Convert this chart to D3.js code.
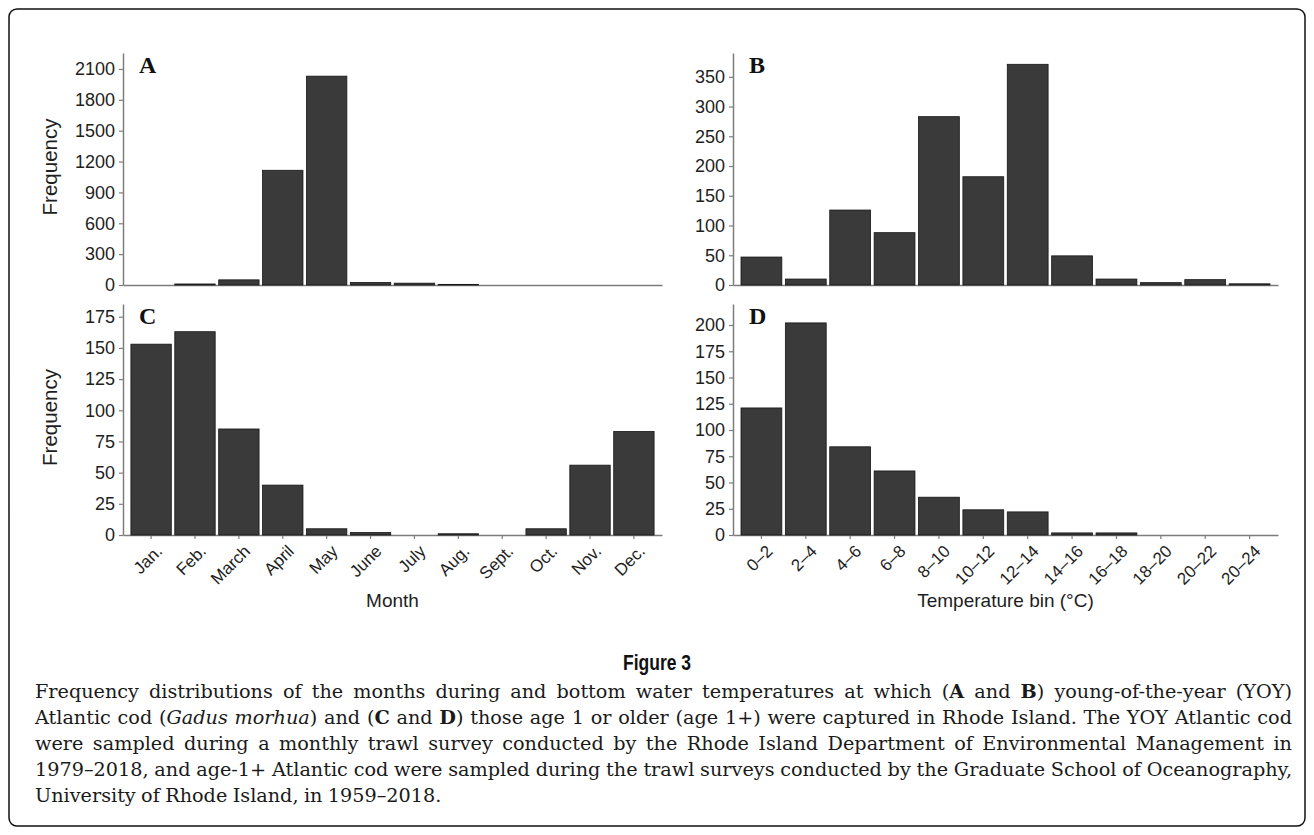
<!DOCTYPE html>
<html>
<head>
<meta charset="utf-8">
<script src="https://cdn.jsdelivr.net/npm/d3@7"></script>
<style>
  body { margin: 0; background: #fff; }
  svg { display: block; }
</style>
</head>
<body>
<svg id="fig" width="1314" height="835"></svg>
<script>
// Categories
const months = ["Jan.", "Feb.", "March", "April", "May", "June", "July", "Aug.", "Sept.", "Oct.", "Nov.", "Dec."];
const tempBins = ["0–2", "2–4", "4–6", "6–8", "8–10", "10–12", "12–14", "14–16", "16–18", "18–20", "20–22", "20–24"];

// Frequencies: young-of-the-year (YOY) and age-1+ Atlantic cod
const yoyByMonth   = [0, 10, 50, 1115, 2030, 25, 18, 6, 0, 0, 0, 0];
const yoyByTemp    = [47, 10, 126, 88, 283, 182, 371, 49, 10, 4, 9, 2];
const adultByMonth = [153, 163, 85, 40, 5, 2, 0, 1, 0, 5, 56, 83];
const adultByTemp  = [121, 202, 84, 61, 36, 24, 22, 2, 2, 0, 0, 0];

// Y tick labels
const ticksA = [0, 300, 600, 900, 1200, 1500, 1800, 2100];
const ticksB = [0, 50, 100, 150, 200, 250, 300, 350];
const ticksC = [0, 25, 50, 75, 100, 125, 150, 175];
const ticksD = [0, 25, 50, 75, 100, 125, 150, 175, 200];

const sans = "'Liberation Sans', Arial, Helvetica, sans-serif";
const serif = "'Liberation Serif', 'Times New Roman', serif";
const capFont = "'DejaVu Serif', serif";

const svg = d3.select("#fig");

// Frame
svg.append("rect")
  .attr("x", 9).attr("y", 9).attr("width", 1296).attr("height", 817)
  .attr("rx", 8).attr("ry", 8)
  .attr("fill", "none").attr("stroke", "#111").attr("stroke-width", 1.5);

const panels = [
  { letter: "A", cats: months,   vals: yoyByMonth,   ticks: ticksA, yMax: 2255, x0: 123, x1: 662,  yTop: 53,  yBase: 285, xLabels: false, yTitle: true },
  { letter: "B", cats: tempBins, vals: yoyByTemp,    ticks: ticksB, yMax: 390,  x0: 733, x1: 1278, yTop: 53,  yBase: 285, xLabels: false, yTitle: false },
  { letter: "C", cats: months,   vals: adultByMonth, ticks: ticksC, yMax: 185.2, x0: 123, x1: 662, yTop: 304, yBase: 535, xLabels: true, yTitle: true, xTitle: "Month" },
  { letter: "D", cats: tempBins, vals: adultByTemp,  ticks: ticksD, yMax: 220,  x0: 733, x1: 1278, yTop: 304, yBase: 535, xLabels: true, yTitle: false, xTitle: "Temperature bin (°C)" }
];

const axisColor = "#7d7d7d";
const fmt = d3.format("d");

panels.forEach(p => {
  const g = svg.append("g");
  const x = d3.scaleBand().domain(p.cats).range([p.x0, p.x1])
    .paddingInner(0.08).paddingOuter(0.18);
  const y = d3.scaleLinear().domain([0, p.yMax]).range([p.yBase, p.yTop]);

  // Y axis
  const ya = g.append("g")
    .attr("transform", `translate(${p.x0},0)`)
    .call(d3.axisLeft(y).tickValues(p.ticks).tickFormat(fmt)
      .tickSize(4).tickSizeOuter(0).tickPadding(4));
  ya.select(".domain").attr("stroke", axisColor).attr("stroke-width", 1.5);
  ya.selectAll(".tick line").attr("stroke", axisColor).attr("stroke-width", 1.2);
  ya.selectAll(".tick text")
    .attr("font-family", sans).attr("font-size", 18).attr("fill", "#1e1e1e");

  // X axis
  const xa = g.append("g")
    .attr("transform", `translate(0,${p.yBase})`)
    .call(d3.axisBottom(x).tickSize(p.xLabels ? 4 : 0).tickSizeOuter(0).tickPadding(4));
  xa.select(".domain").attr("stroke", axisColor).attr("stroke-width", 1.5);
  xa.selectAll(".tick line").attr("stroke", axisColor).attr("stroke-width", 1.2);
  if (p.xLabels) {
    xa.selectAll(".tick text")
      .attr("font-family", sans).attr("font-size", 17).attr("fill", "#1e1e1e")
      .attr("text-anchor", "end")
      .attr("dy", "0.35em")
      .attr("transform", "translate(8,13) rotate(-45)")
      .attr("y", 0).attr("x", 0);
  } else {
    xa.selectAll(".tick text").remove();
  }

  // Bars
  g.selectAll("rect.bar")
    .data(p.cats.map((c, i) => ({ c, v: p.vals[i] })).filter(d => d.v > 0))
    .join("rect")
    .attr("class", "bar")
    .attr("x", d => x(d.c))
    .attr("y", d => y(d.v))
    .attr("width", x.bandwidth())
    .attr("height", d => p.yBase - y(d.v))
    .attr("fill", "#3a3a3a")
    .attr("stroke", "#161616")
    .attr("stroke-width", 0.8);

  // Panel letter
  g.append("text")
    .attr("x", p.x0 + 16).attr("y", p.yTop + 20)
    .attr("font-family", serif).attr("font-weight", "bold").attr("font-size", 24)
    .attr("fill", "#111")
    .text(p.letter);

  if (p.yTitle) {
    g.append("text")
      .attr("transform", `translate(57,${(p.yTop + p.yBase) / 2 - 2}) rotate(-90)`)
      .attr("text-anchor", "middle")
      .attr("font-family", sans).attr("font-size", 20.5).attr("fill", "#1e1e1e")
      .text("Frequency");
  }
  if (p.xTitle) {
    g.append("text")
      .attr("x", (p.x0 + p.x1) / 2).attr("y", 607)
      .attr("text-anchor", "middle")
      .attr("font-family", sans).attr("font-size", 19).attr("fill", "#1e1e1e")
      .text(p.xTitle);
  }
});

// Figure title
svg.append("text")
  .attr("x", 657).attr("y", 670)
  .attr("text-anchor", "middle")
  .attr("font-family", sans)
  .attr("font-weight", "bold").attr("font-size", 22).attr("fill", "#111")
  .attr("textLength", 68).attr("lengthAdjust", "spacingAndGlyphs")
  .text("Figure 3");

// Caption, justified line by line
const captionLines = [
  [["Frequency distributions of the months during and bottom water temperatures at which (", ""], ["A", "b"], [" and ", ""], ["B", "b"], [") young-of-the-year (YOY)", ""]],
  [["Atlantic cod (", ""], ["Gadus morhua", "i"], [") and (", ""], ["C", "b"], [" and ", ""], ["D", "b"], [") those age 1 or older (age 1+) were captured in Rhode Island. The YOY Atlantic cod", ""]],
  [["were sampled during a monthly trawl survey conducted by the Rhode Island Department of Environmental Management in", ""]],
  [["1979–2018, and age-1+ Atlantic cod were sampled during the trawl surveys conducted by the Graduate School of Oceanography,", ""]],
  [["University of Rhode Island, in 1959–2018.", ""]]
];

function toWords(segs) {
  const words = [[]];
  segs.forEach(([t, s]) => {
    t.split(" ").forEach((part, i) => {
      if (i > 0) words.push([]);
      if (part !== "") words[words.length - 1].push({ t: part, s });
    });
  });
  return words.filter(w => w.length);
}

const capLeft = 35, capRight = 1292, capWidth = capRight - capLeft;
const capG = svg.append("g").attr("font-family", capFont).attr("fill", "#1a1a1a");

function layoutCaption(fs) {
  capG.selectAll("*").remove();
  return captionLines.map((segs, li) =>
    toWords(segs).map(w => {
      const t = capG.append("text").attr("font-size", fs).attr("y", 698 + li * 26);
      w.forEach(piece => {
        t.append("tspan")
          .attr("font-weight", piece.s === "b" ? "bold" : null)
          .attr("font-style", piece.s === "i" ? "italic" : null)
          .text(piece.t);
      });
      return { node: t, w: t.node().getComputedTextLength() };
    })
  );
}

const space = f => 0.28 * f;
let fs = 17;
let lines = layoutCaption(fs);
const natural = lines.slice(0, 4).map(ws => d3.sum(ws, d => d.w) + (ws.length - 1) * space(fs));
fs = fs * (capWidth - 6) / d3.max(natural);
lines = layoutCaption(fs);

lines.forEach((ws, li) => {
  const total = d3.sum(ws, d => d.w);
  const gap = li < lines.length - 1 ? (capWidth - total) / (ws.length - 1) : space(fs);
  let cx = capLeft;
  ws.forEach(d => {
    d.node.attr("x", cx);
    cx += d.w + gap;
  });
});
</script>
</body>
</html>
